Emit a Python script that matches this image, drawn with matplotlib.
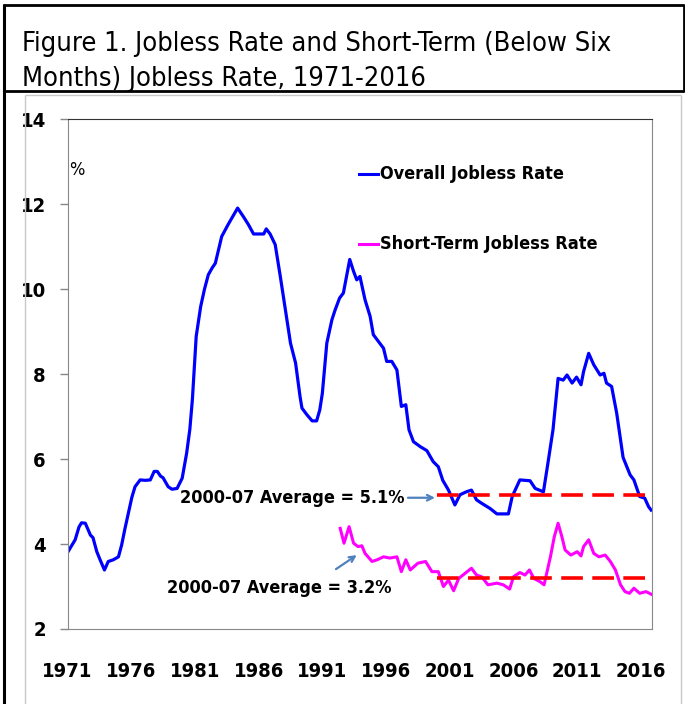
"""Jobless rate vs short-term jobless rate, 1971-2016."""

import os

import matplotlib
matplotlib.use("Agg")
import matplotlib.pyplot as plt
import matplotlib.font_manager as fm
from matplotlib.lines import Line2D

# overall jobless rate (%)
years_all = [1971.0, 1971.3, 1971.6, 1971.9, 1972.1, 1972.4, 1972.6, 1972.8, 1973.0, 1973.3,
             1973.6, 1973.9, 1974.2, 1974.6, 1975.0, 1975.25, 1975.5, 1975.8, 1976.05, 1976.3,
             1976.7, 1977.1, 1977.5, 1977.8, 1978.05, 1978.3, 1978.5, 1978.9, 1979.2, 1979.6,
             1980.0, 1980.35, 1980.6, 1980.8, 1981.1, 1981.45, 1981.75, 1982.05, 1982.35, 1982.6,
             1983.1, 1983.6, 1984.0, 1984.35, 1984.8, 1985.2, 1985.6, 1986.0, 1986.4, 1986.6,
             1986.9, 1987.3, 1987.7, 1988.1, 1988.5, 1988.9, 1989.25, 1989.4, 1989.8, 1990.2,
             1990.55, 1990.8, 1991.0, 1991.35, 1991.75, 1992.0, 1992.35, 1992.65, 1992.9, 1993.15,
             1993.45, 1993.7, 1993.95, 1994.35, 1994.75, 1995.0, 1995.4, 1995.8, 1996.05, 1996.45,
             1996.85, 1997.2, 1997.55, 1997.8, 1998.15, 1998.7, 1999.2, 1999.7, 2000.1, 2000.45,
             2000.9, 2001.4, 2001.8, 2002.3, 2002.7, 2003.1, 2003.5, 2004.15, 2004.7, 2005.6,
             2005.9, 2006.25, 2006.5, 2007.3, 2007.7, 2008.35, 2008.7, 2009.1, 2009.3, 2009.5,
             2009.9, 2010.2, 2010.6, 2010.95, 2011.3, 2011.5, 2011.9, 2012.3, 2012.8, 2013.1,
             2013.3, 2013.7, 2014.1, 2014.6, 2015.15, 2015.45, 2015.9, 2016.3, 2016.6, 2016.8]
rate_all = [3.80, 3.95, 4.10, 4.40, 4.50, 4.49, 4.35, 4.21, 4.15, 3.82,
            3.60, 3.39, 3.59, 3.63, 3.70, 3.98, 4.35, 4.76, 5.10, 5.35,
            5.51, 5.50, 5.51, 5.71, 5.71, 5.60, 5.56, 5.35, 5.29, 5.31,
            5.55, 6.14, 6.70, 7.40, 8.89, 9.59, 10.00, 10.34, 10.50, 10.61,
            11.24, 11.52, 11.73, 11.91, 11.71, 11.52, 11.30, 11.30, 11.30, 11.42,
            11.30, 11.05, 10.30, 9.51, 8.73, 8.26, 7.47, 7.20, 7.04, 6.90,
            6.90, 7.16, 7.55, 8.73, 9.28, 9.51, 9.79, 9.91, 10.30, 10.70,
            10.42, 10.22, 10.30, 9.75, 9.36, 8.93, 8.77, 8.61, 8.30, 8.30,
            8.10, 7.24, 7.28, 6.69, 6.41, 6.29, 6.20, 5.94, 5.82, 5.50,
            5.27, 4.92, 5.16, 5.23, 5.27, 5.04, 4.96, 4.84, 4.71, 4.71,
            5.12, 5.35, 5.51, 5.49, 5.31, 5.23, 5.90, 6.69, 7.30, 7.90,
            7.86, 7.98, 7.79, 7.93, 7.75, 8.06, 8.49, 8.22, 7.98, 8.02,
            7.79, 7.71, 7.08, 6.04, 5.63, 5.51, 5.12, 5.08, 4.88, 4.80]

# short-term (below six months) jobless rate (%)
years_short = [1992.4, 1992.7, 1993.1, 1993.45, 1993.8, 1994.1, 1994.35, 1994.9, 1995.3, 1995.8,
               1996.3, 1996.85, 1997.2, 1997.55, 1997.9, 1998.5, 1999.1, 1999.6, 2000.1, 2000.5,
               2000.9, 2001.3, 2001.7, 2002.2, 2002.7, 2003.1, 2003.5, 2004.0, 2004.7, 2005.2,
               2005.7, 2006.0, 2006.5, 2006.9, 2007.25, 2007.6, 2008.1, 2008.4, 2008.9, 2009.2,
               2009.5, 2009.8, 2010.05, 2010.5, 2011.0, 2011.3, 2011.5, 2011.9, 2012.3, 2012.7,
               2013.2, 2013.6, 2014.0, 2014.4, 2014.75, 2015.1, 2015.45, 2015.9, 2016.4, 2016.8]
rate_short = [4.37, 4.02, 4.41, 4.02, 3.94, 3.96, 3.78, 3.59, 3.63, 3.70,
              3.67, 3.70, 3.35, 3.63, 3.39, 3.55, 3.59, 3.35, 3.35, 3.00,
              3.15, 2.90, 3.19, 3.31, 3.43, 3.27, 3.23, 3.04, 3.08, 3.04,
              2.94, 3.23, 3.33, 3.27, 3.39, 3.19, 3.11, 3.04, 3.70, 4.17,
              4.49, 4.17, 3.86, 3.74, 3.82, 3.72, 3.94, 4.10, 3.78, 3.70,
              3.74, 3.59, 3.39, 3.04, 2.88, 2.84, 2.96, 2.84, 2.88, 2.82]

# 2000-07 averages, drawn from 2000 to the end of the data
avg_span = [2000.0, 2016.87]
avg_all = 5.15
avg_short = 3.2

xtick_years = list(range(1971, 2017, 5))
ytick_vals = [2, 4, 6, 8, 10, 12, 14]


def narrow_font(bold):
    """Look for an installed narrow/condensed face; fall back to Liberation Sans."""
    if bold:
        wanted = ["liberationsansnarrow-bold.ttf", "arialnb.ttf", "notosans-condensedbold.ttf",
                  "dejavusanscondensed-bold.ttf", "robotocondensed-bold.ttf",
                  "opensans-condensedbold.ttf", "opensans_condensed-bold.ttf"]
    else:
        wanted = ["liberationsansnarrow-regular.ttf", "arialn.ttf", "notosans-condensed.ttf",
                  "dejavusanscondensed.ttf", "robotocondensed-regular.ttf",
                  "opensans-condensedregular.ttf", "opensans_condensed-regular.ttf"]
    files = {os.path.basename(f.fname).lower(): f.fname for f in fm.fontManager.ttflist}
    for name in wanted:
        if name in files:
            return fm.FontProperties(fname=files[name]), 1.0
    return fm.FontProperties(family="Liberation Sans", weight="bold" if bold else "normal"), 0.82


REG, SC_R = narrow_font(False)
BOLD, SC_B = narrow_font(True)


def fp(base, scale, size):
    p = base.copy()
    p.set_size(size * scale)
    return p


W, H = 685, 704
fig = plt.figure(figsize=(W / 100, H / 100), dpi=100)


def fx(x): return x / W
def fy(y): return 1 - y / H


def frame_line(xs, ys, color, lw):
    fig.add_artist(Line2D([fx(v) for v in xs], [fy(v) for v in ys],
                          color=color, lw=lw, solid_capstyle="butt"))


# page frame: black title box, grey chart box
frame_line([4, 4], [4, 704], "black", 2.2)
frame_line([3, 684], [5, 5], "black", 2.0)
frame_line([683.5, 683.5], [4, 92], "black", 2.0)
frame_line([3, 684], [91, 91], "black", 2.0)
frame_line([25, 25], [95, 704], "#c8c8c8", 1.0)
frame_line([681, 681], [95, 704], "#c8c8c8", 1.0)
frame_line([25, 681], [95, 95], "#c8c8c8", 1.0)

fig.text(fx(22), fy(44), "Figure 1. Jobless Rate and Short-Term (Below Six",
         fontproperties=fp(REG, SC_R, 19.5), va="center", ha="left")
fig.text(fx(22), fy(79), "Months) Jobless Rate, 1971-2016",
         fontproperties=fp(REG, SC_R, 19.5), va="center", ha="left")

ax = fig.add_axes([fx(67.5), fy(629), (652 - 67.5) / W, (629 - 119.3) / H])

ax.plot(years_all, rate_all, color="#0000ff", lw=2.3, solid_joinstyle="round")
ax.plot(years_short, rate_short, color="#ff00ff", lw=2.2, solid_joinstyle="round")
ax.plot(avg_span, [avg_all, avg_all], color="#ff0000", lw=2.6, ls=(0, (6.0, 2.6)))
ax.plot(avg_span, [avg_short, avg_short], color="#ff0000", lw=2.6, ls=(0, (6.0, 2.6)))

ax.set_xlim(1971.0, 2016.87)
ax.set_ylim(2, 14)
ax.set_xticks(xtick_years)
ax.set_xticklabels([str(y) for y in xtick_years])
ax.set_yticks(ytick_vals)
ax.set_yticklabels([str(v) for v in ytick_vals])
for lab in ax.get_xticklabels() + ax.get_yticklabels():
    lab.set_fontproperties(fp(BOLD, SC_B, 14.5))
ax.tick_params(axis="x", length=0, pad=24)
ax.tick_params(axis="y", length=5.5, width=1, color="#888888", pad=10)
for side in ["left", "right", "bottom"]:
    ax.spines[side].set_color("#888888")
ax.spines["top"].set_color("#333333")

ax.text(1971.75, 12.8, "%", fontproperties=fp(REG, SC_R, 13), ha="center", va="center")

# legend drawn by hand, two rows apart
for yy, col, lab in [(0.8927, "#0000ff", "Overall Jobless Rate"),
                     (0.7553, "#ff00ff", "Short-Term Jobless Rate")]:
    ax.plot([0.4987, 0.5312], [yy, yy], color=col, lw=2.2, transform=ax.transAxes)
    ax.text(0.5346, yy, lab, transform=ax.transAxes, fontproperties=fp(BOLD, SC_B, 13),
            ha="left", va="center")

arrow = dict(arrowstyle="->", color="#4f81bd", lw=1.6, shrinkA=0, shrinkB=0)
ax.annotate("", xy=(1999.84, 5.09), xytext=(1997.72, 5.09), arrowprops=arrow)
ax.text(1997.48, 5.08, "2000-07 Average = 5.1%", fontproperties=fp(BOLD, SC_B, 13),
        ha="right", va="center")
ax.annotate("", xy=(1993.7, 3.74), xytext=(1992.07, 3.41), arrowprops=arrow)
ax.text(1978.8, 2.97, "2000-07 Average = 3.2%", fontproperties=fp(BOLD, SC_B, 13),
        ha="left", va="center")

fig.savefig("out.png", dpi=100)
